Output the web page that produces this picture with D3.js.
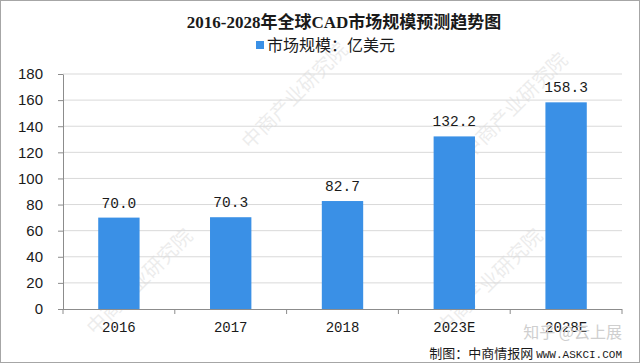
<!DOCTYPE html>
<html>
<head>
  <meta charset="utf-8">
  <title>2016-2028年全球CAD市场规模预测趋势图</title>
  <script src="https://d3js.org/d3.v7.min.js"></script>
  <style>
    body { margin: 0; background: #fff; }
    .bar { fill: #3a90e6; }
    .grid line { stroke: #d9d9d9; }
    .axis path, .axis line { stroke: #8c8c8c; }
  </style>
</head>
<body>
  <svg id="chart"></svg>

  <script>
    var years = ['2016', '2017', '2018', '2023E', '2028E'];
    var sizes = [70.0, 70.3, 82.7, 132.2, 158.3];
    var yTicks = [0, 20, 40, 60, 80, 100, 120, 140, 160, 180];

    var svgWidth = 640;
    var svgHeight = 363;
    var margin = { top: 74, right: 18, bottom: 54, left: 63 };
    var width = svgWidth - margin.left - margin.right;
    var height = svgHeight - margin.top - margin.bottom;

    var svg = d3.select('#chart')
      .attr('width', svgWidth)
      .attr('height', svgHeight);

    svg.append('rect')
      .attr('x', 0.5).attr('y', 0.5)
      .attr('width', svgWidth - 1).attr('height', svgHeight - 1)
      .attr('fill', '#fff')
      .attr('stroke', '#a6a6a6');

    // faint watermarks
    var marks = [[95, 336], [445, 336], [250, 150], [470, 160]];
    svg.selectAll('.wm')
      .data(marks)
      .enter().append('text')
      .attr('class', 'wm')
      .attr('transform', function(d) { return 'translate(' + d[0] + ',' + d[1] + ') rotate(-45)'; })
      .attr('font-family', 'Noto Sans CJK SC')
      .attr('font-size', 20)
      .attr('fill', '#000')
      .attr('opacity', 0.07)
      .text('中商产业研究院');

    svg.append('text')
      .attr('x', 344)
      .attr('y', 28)
      .attr('text-anchor', 'middle')
      .attr('font-family', '"Liberation Serif", "Noto Sans CJK SC"')
      .attr('font-weight', 'bold')
      .attr('font-size', 17)
      .attr('fill', '#1a1a1a')
      .text('2016-2028年全球CAD市场规模预测趋势图');

    svg.append('rect')
      .attr('x', 256).attr('y', 41)
      .attr('width', 8).attr('height', 8)
      .attr('class', 'bar');

    svg.append('text')
      .attr('x', 267)
      .attr('y', 51)
      .attr('font-family', 'Noto Sans CJK SC')
      .attr('font-size', 16)
      .attr('fill', '#1a1a1a')
      .text('市场规模：亿美元');

    var g = svg.append('g')
      .attr('transform', 'translate(' + margin.left + ',' + margin.top + ')');

    var x = d3.scaleBand()
      .range([0, width])
      .paddingInner(0.63)
      .paddingOuter(0.315)
      .domain(years);

    var y = d3.scaleLinear()
      .range([height, 0])
      .domain([0, 180]);

    g.append('g')
      .attr('class', 'grid')
      .selectAll('line')
      .data(yTicks.slice(1))
      .enter().append('line')
      .attr('x1', 0).attr('x2', width)
      .attr('y1', function(d) { return y(d); })
      .attr('y2', function(d) { return y(d); });

    var yAxis = g.append('g')
      .attr('class', 'axis')
      .call(d3.axisLeft(y).tickValues(yTicks).tickSize(5).tickPadding(15).tickSizeOuter(0));
    yAxis.selectAll('text')
      .attr('font-family', '"Liberation Sans", Arial, sans-serif')
      .attr('font-size', 15)
      .attr('fill', '#1a1a1a');

    // category boundary ticks
    var step = x.step();
    var bounds = d3.range(years.length + 1).map(function(i) { return i * step; });
    var xAxis = g.append('g')
      .attr('class', 'axis')
      .attr('transform', 'translate(0,' + height + ')');
    xAxis.append('line')
      .attr('x1', 0).attr('x2', width)
      .attr('y1', 0.5).attr('y2', 0.5);
    xAxis.selectAll('.bt')
      .data(bounds)
      .enter().append('line')
      .attr('class', 'bt')
      .attr('x1', function(d) { return d; })
      .attr('x2', function(d) { return d; })
      .attr('y1', 0).attr('y2', 5);
    xAxis.selectAll('.cat')
      .data(years)
      .enter().append('text')
      .attr('class', 'cat')
      .attr('x', function(d) { return x(d) + x.bandwidth() / 2; })
      .attr('y', 23)
      .attr('text-anchor', 'middle')
      .attr('font-family', '"Liberation Mono", monospace')
      .attr('font-size', 14)
      .attr('fill', '#1a1a1a')
      .text(function(d) { return d; });

    g.selectAll('.bar-g')
      .data(sizes)
      .enter().append('rect')
      .attr('class', 'bar')
      .attr('x', function(d, i) { return x(years[i]); })
      .attr('y', function(d) { return y(d); })
      .attr('width', x.bandwidth())
      .attr('height', function(d) { return height - y(d); });

    g.selectAll('.val')
      .data(sizes)
      .enter().append('text')
      .attr('class', 'val')
      .attr('x', function(d, i) { return x(years[i]) + x.bandwidth() / 2; })
      .attr('y', function(d) { return y(d) - 10; })
      .attr('text-anchor', 'middle')
      .attr('font-family', '"Liberation Mono", monospace')
      .attr('font-size', 14.5)
      .attr('fill', '#1a1a1a')
      .text(function(d) { return d.toFixed(1); });

    svg.append('text')
      .attr('x', 622)
      .attr('y', 338)
      .attr('text-anchor', 'end')
      .attr('font-family', 'Noto Sans CJK SC')
      .attr('font-size', 16)
      .attr('fill', '#cfcfcf')
      .text('知乎 @云上展');

    var foot = svg.append('text')
      .attr('x', 622)
      .attr('y', 358)
      .attr('text-anchor', 'end')
      .attr('fill', '#1a1a1a');
    foot.append('tspan')
      .attr('font-family', 'Noto Sans CJK SC')
      .attr('font-size', 13)
      .text('制图：中商情报网 ');
    foot.append('tspan')
      .attr('font-family', '"Liberation Mono", monospace')
      .attr('font-size', 11)
      .text('WWW.ASKCI.COM');
  </script>
</body>
</html>
